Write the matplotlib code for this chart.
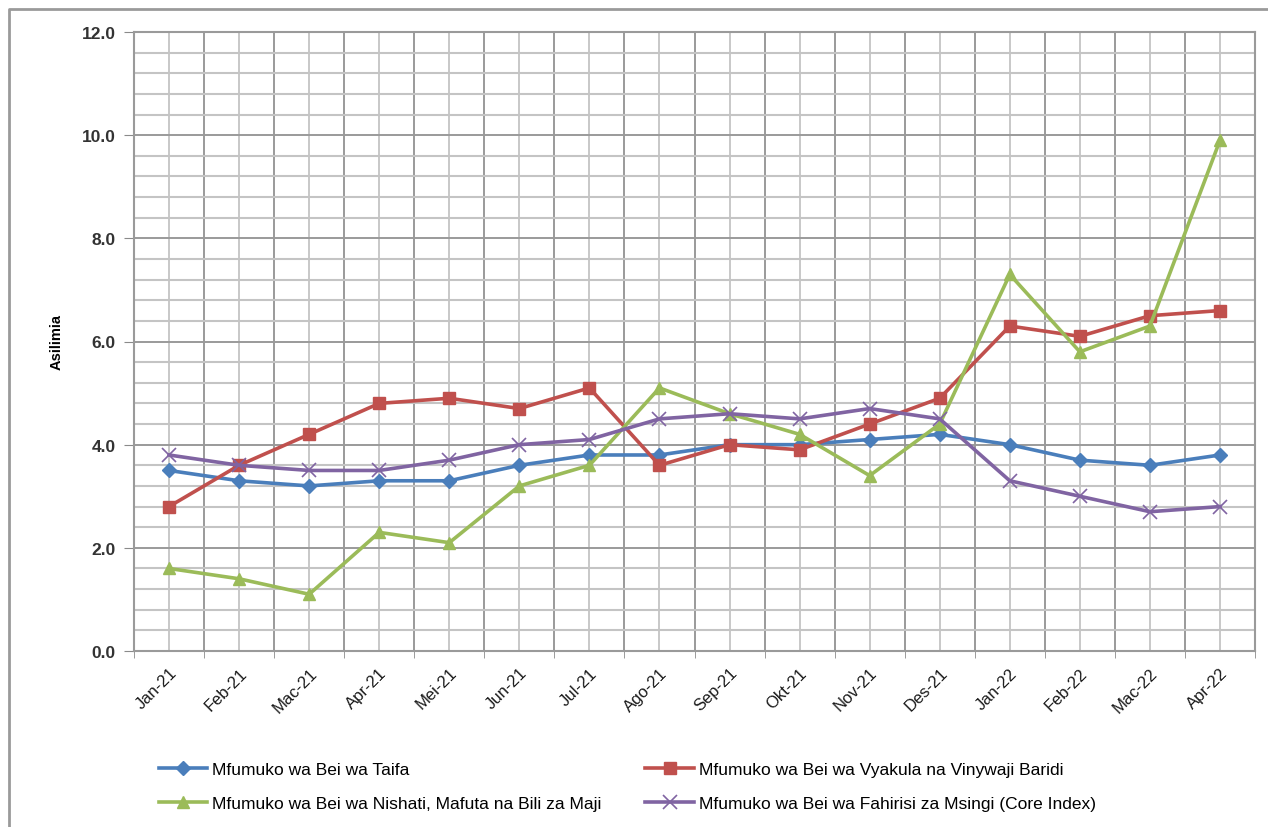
import matplotlib
matplotlib.use("Agg")
import matplotlib.pyplot as plt
from matplotlib.ticker import MultipleLocator, FormatStrFormatter
from matplotlib.lines import Line2D

plt.rcParams['font.family'] = ['Liberation Sans', 'DejaVu Sans']

months = ["Jan-21", "Feb-21", "Mac-21", "Apr-21", "Mei-21", "Jun-21", "Jul-21", "Ago-21",
          "Sep-21", "Okt-21", "Nov-21", "Des-21", "Jan-22", "Feb-22", "Mac-22", "Apr-22"]

taifa = [3.5, 3.3, 3.2, 3.3, 3.3, 3.6, 3.8, 3.8, 4.0, 4.0, 4.1, 4.2, 4.0, 3.7, 3.6, 3.8]
vyakula = [2.8, 3.6, 4.2, 4.8, 4.9, 4.7, 5.1, 3.6, 4.0, 3.9, 4.4, 4.9, 6.3, 6.1, 6.5, 6.6]
nishati = [1.6, 1.4, 1.1, 2.3, 2.1, 3.2, 3.6, 5.1, 4.6, 4.2, 3.4, 4.4, 7.3, 5.8, 6.3, 9.9]
core = [3.8, 3.6, 3.5, 3.5, 3.7, 4.0, 4.1, 4.5, 4.6, 4.5, 4.7, 4.5, 3.3, 3.0, 2.7, 2.8]

labels = ["Mfumuko wa Bei wa Taifa",
          "Mfumuko wa Bei wa Vyakula na Vinywaji Baridi",
          "Mfumuko wa Bei wa Nishati, Mafuta na Bili za Maji",
          "Mfumuko wa Bei wa Fahirisi za Msingi (Core Index)"]

fig = plt.figure(figsize=(12.68, 8.28), dpi=100)
ax = fig.add_axes([134/1268, 1-652/828, (1255-134)/1268, (652-33)/828])

x = list(range(len(months)))
h1, = ax.plot(x, taifa, color="#4A7EBB", lw=2.6, marker="D", ms=7, label=labels[0], zorder=5)
h2, = ax.plot(x, vyakula, color="#C0504D", lw=2.6, marker="s", ms=9, label=labels[1], zorder=5)
h3, = ax.plot(x, nishati, color="#9BBB59", lw=2.6, marker="^", ms=9, label=labels[2], zorder=5)
h4, = ax.plot(x, core, color="#8064A2", lw=2.6, marker="x", ms=10, mew=1.2, label=labels[3], zorder=5)

ax.set_xlim(-0.5, len(months) - 0.5)
ax.set_ylim(0, 12)
ax.set_xticks(x)
ax.set_xticklabels(months, rotation=45, ha="right", rotation_mode="anchor", fontsize=12, color="#1a1a1a")
ax.set_xticks([i - 0.5 for i in range(len(months) + 1)], minor=True)
ax.yaxis.set_major_locator(MultipleLocator(2))
ax.yaxis.set_minor_locator(MultipleLocator(0.4))
ax.yaxis.set_major_formatter(FormatStrFormatter("%.1f"))
for t in ax.get_yticklabels():
    t.set_fontsize(12.5)
    t.set_fontweight("bold")
    t.set_color("#333333")

ax.tick_params(axis="x", which="major", length=0, pad=10)
ax.tick_params(axis="x", which="minor", length=5, color="#8a8a8a")
ax.tick_params(axis="y", which="major", length=7, color="#8a8a8a", pad=6)
ax.tick_params(axis="y", which="minor", length=0)

ax.grid(True, which="major", axis="y", color="#9a9a9a", lw=1.4)
ax.grid(True, which="minor", axis="y", color="#c4c4c4", lw=1.5)
ax.grid(True, which="minor", axis="x", color="#9a9a9a", lw=1.4)
ax.grid(True, which="major", axis="x", color="#c8c8c8", lw=1.4)
ax.set_axisbelow(True)
for s in ax.spines.values():
    s.set_color("#9a9a9a")
    s.set_linewidth(1.5)

ax.set_ylabel("Asilimia", fontsize=10.5, fontweight="bold")
ax.yaxis.set_label_coords(-0.063, 0.5)

leg = fig.legend([h1, h3, h2, h4], [labels[0], labels[2], labels[1], labels[3]],
                 ncol=2, loc="upper left", bbox_to_anchor=(143/1268, 1-747/828),
                 frameon=False, fontsize=12.5, handlelength=2.8, handletextpad=0.3,
                 columnspacing=2.5, labelspacing=1.1)

fig.add_artist(Line2D([9/1268, 9/1268, 1.0], [0.0, 1-10/828, 1-10/828],
                      transform=fig.transFigure, color="#9a9a9a", lw=2))

fig.savefig("out.png", dpi=100)
